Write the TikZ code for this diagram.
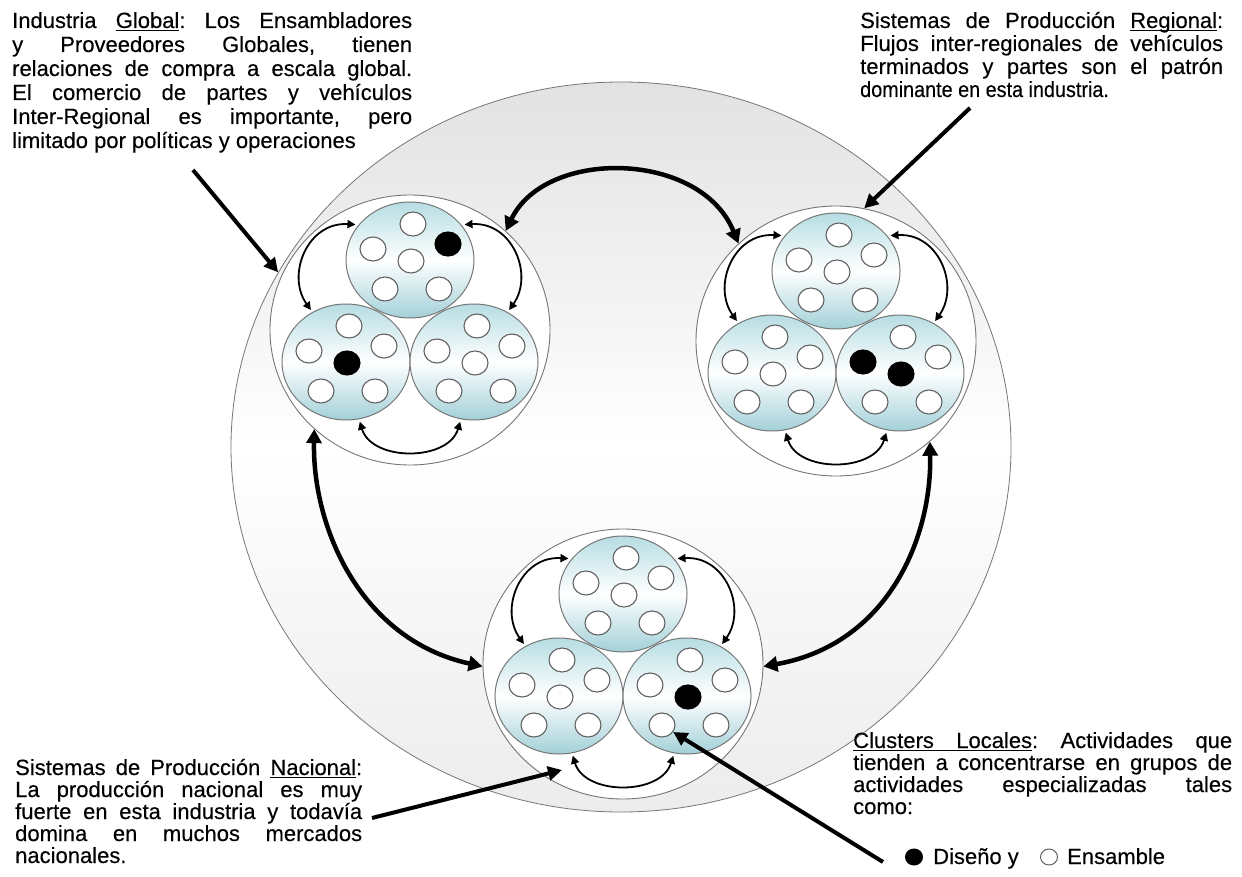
\documentclass[tikz,border=0pt]{standalone}
\usepackage{fontspec}
\usepackage{graphicx}
\setmainfont{Liberation Sans}[FakeBold=0.25]
\usetikzlibrary{arrows.meta,shapes.geometric}
\definecolor{tealtop}{RGB}{182,221,227}
\definecolor{tealbot}{RGB}{162,208,216}
\definecolor{edgegray}{RGB}{118,118,118}
\definecolor{biggray}{RGB}{226,226,226}
\definecolor{biggraytwo}{RGB}{236,236,236}
\newcommand\jst[2]{\makebox[#1][s]{#2}}
\newsavebox\ulbox
\newcommand\ul[1]{\sbox\ulbox{#1}\rlap{\rule[-3pt]{\wd\ulbox}{1pt}}\usebox\ulbox}
\newcommand\ulsp{\leaders\hrule height -2pt depth 3pt\hskip\fontdimen2\font plus\fontdimen3\font minus\fontdimen4\font\relax}
\newcommand\sixdots[7]{%
 \node[#2] (#1a) at ([shift={(3,-36)}]#1.center) {};
 \node[#3] (#1b) at ([shift={(-37,-11)}]#1.center) {};
 \node[#4] (#1c) at ([shift={(38,-16)}]#1.center) {};
 \node[#5] (#1d) at ([shift={(1,1)}]#1.center) {};
 \node[#6] (#1e) at ([shift={(-25,29)}]#1.center) {};
 \node[#7] (#1f) at ([shift={(29,29)}]#1.center) {};}
\newcommand\grpdraw[2]{%
 \node[grp] (#1) at (#2) {};
 \node[inr] (#1t) at ([shift={(0,-70)}]#1.center) {};
 \node[inr] (#1l) at ([shift={(-64,32)}]#1.center) {};
 \node[inr] (#1r) at ([shift={(64,32)}]#1.center) {};
 \draw[smallarr] (#1t.147) .. controls +(-48,-3) and +(-25,-35) .. (#1l.124);
 \draw[smallarr] (#1t.33) .. controls +(48,-3) and +(25,-35) .. (#1r.56);
 \draw[smallarr] (#1l.283) .. controls +(12,40) and +(-12,40) .. (#1r.257);}
\begin{document}
\frenchspacing
\begin{tikzpicture}[x=1pt,y=-1pt,
 bigell/.style={ellipse, draw=edgegray, line width=0.8pt, minimum width=780pt, minimum height=730pt, inner sep=0pt, top color=biggray, bottom color=biggraytwo, middle color=white},
 grp/.style={ellipse, draw=edgegray, line width=0.9pt, fill=white, minimum width=280pt, minimum height=270pt, inner sep=0pt},
 inr/.style={ellipse, draw=edgegray, line width=1pt, minimum width=128pt, minimum height=116pt, inner sep=0pt, outer sep=3pt, top color=tealtop, bottom color=tealbot, middle color=white},
 dotw/.style={ellipse, draw=black!62, line width=1.1pt, fill=white, minimum width=26pt, minimum height=24pt, inner sep=0pt},
 dotb/.style={dotw, fill=black, draw=black},
 legw/.style={ellipse, draw=black!62, line width=1pt, fill=white, minimum width=17pt, minimum height=16pt, inner sep=0pt},
 legb/.style={legw, fill=black, draw=black},
 smallarr/.style={line width=1.8pt, {Triangle[length=8pt,width=8pt]}-{Triangle[length=8pt,width=8pt]}},
 bigarr/.style={line width=4.5pt, {Triangle[length=14pt,width=15pt]}-{Triangle[length=14pt,width=15pt]}},
 ptr/.style={line width=4pt, -{Triangle[length=14pt,width=14pt]}},
 txt/.style={anchor=base west, inner sep=0pt, font=\fontsize{22}{24}\selectfont},
]
\useasboundingbox (0,0) rectangle (1242,877);
\fill[white] (0,0) rectangle (1242,877);

\node[bigell] (B) at (621,447) {};

\grpdraw{g1}{410,330}
\grpdraw{g2}{836,341}
\grpdraw{g3}{623,664}

\sixdots{g1t}{dotw}{dotw}{dotb}{dotw}{dotw}{dotw}
\sixdots{g1l}{dotw}{dotw}{dotw}{dotb}{dotw}{dotw}
\sixdots{g1r}{dotw}{dotw}{dotw}{dotw}{dotw}{dotw}
\sixdots{g2t}{dotw}{dotw}{dotw}{dotw}{dotw}{dotw}
\sixdots{g2l}{dotw}{dotw}{dotw}{dotw}{dotw}{dotw}
\sixdots{g2r}{dotw}{dotb}{dotw}{dotb}{dotw}{dotw}
\sixdots{g3t}{dotw}{dotw}{dotw}{dotw}{dotw}{dotw}
\sixdots{g3l}{dotw}{dotw}{dotw}{dotw}{dotw}{dotw}
\sixdots{g3r}{dotw}{dotw}{dotw}{dotb}{dotw}{dotw}

\draw[bigarr] (g1.46) .. controls +(40,-83) and +(-38,-93) .. (g2.135);
\draw[bigarr] (g1.226) .. controls +(-2,97) and +(-123,-27) .. (g3.181);
\draw[bigarr] (g2.313) .. controls +(2,97) and +(124,-22) .. (g3.359);

% Global text
\node[txt] (gl1) at (12,28) {\jst{400pt}{Industria \ul{Global}: Los Ensambladores}};
\node[txt] (gl2) at (12,52) {\jst{400pt}{y Proveedores Globales, tienen}};
\node[txt] (gl3) at (12,76) {\jst{400pt}{relaciones de compra a escala global.}};
\node[txt] (gl4) at (12,100) {\jst{400pt}{El comercio de partes y vehículos}};
\node[txt] (gl5) at (12,124) {\jst{400pt}{Inter-Regional es importante, pero}};
\node[txt] (gl6) at (12,148) {limitado por políticas y operaciones};

% Regional text
\node[txt] (rg1) at (860,28) {\jst{363pt}{Sistemas de Producción \ul{Regional}:}};
\node[txt] (rg2) at (860,51) {\jst{363pt}{Flujos inter-regionales de vehículos}};
\node[txt] (rg3) at (860,74) {\jst{363pt}{terminados y partes son el patrón}};
\node[txt] (rg4) at (860,97) {\scalebox{0.9}[1]{dominante en esta industria.}};

% Nacional text
\node[txt] (na1) at (15,775) {\jst{347pt}{Sistemas de Producción \ul{Nacional}:}};
\node[txt] (na2) at (15,797) {\jst{347pt}{La producción nacional es muy}};
\node[txt] (na3) at (15,819) {\jst{347pt}{fuerte en esta industria y todavía}};
\node[txt] (na4) at (15,841) {\jst{347pt}{domina en muchos mercados}};
\node[txt] (na5) at (15,863) {nacionales.};

% Clusters text
\node[txt] (cl1) at (853,748) {\jst{379pt}{\ul{Clusters}\ulsp\ul{Locales}: Actividades que}};
\node[txt] (cl2) at (853,770) {\jst{379pt}{tienden a concentrarse en grupos de}};
\node[txt] (cl3) at (853,792) {\jst{379pt}{actividades especializadas tales}};
\node[txt] (cl4) at (853,814) {como:};

% legend
\node[legb] (ld) at (914,857) {};
\node[txt] (ltd) at (933,864) {Diseño y};
\node[legw] (lw) at (1049,857) {};
\node[txt] (lte) at (1067,864) {Ensamble};

% pointers
\coordinate (gstart) at (193,170);
\coordinate (rstart) at (970,108);
\coordinate (nstart) at (372,818);
\coordinate (ntip) at (562,770);
\coordinate (cstart) at (883,862);
\draw[ptr] (gstart) -- (B.153);
\draw[ptr] (rstart) -- (g2.78);
\draw[ptr] (nstart) -- (ntip);
\draw[ptr] (cstart) -- (g3re.328);
\end{tikzpicture}
\end{document}
